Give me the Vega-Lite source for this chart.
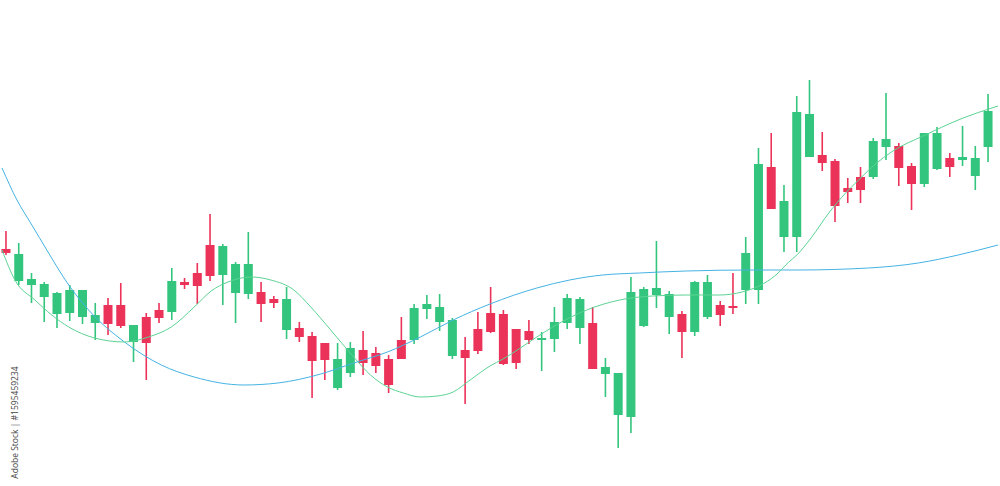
{
  "$schema": "https://vega.github.io/schema/vega-lite/v6.json",
  "width": 1000,
  "height": 486,
  "autosize": {"type": "fit", "contains": "padding"},
  "padding": 0,
  "background": "white",
  "config": {"view": {"stroke": null}, "scale": {"continuousPadding": 0}},
  "datasets": {
    "candles": [
      {"i":0,"open":251,"high":269,"low":245,"close":247},
      {"i":1,"open":219,"high":257,"low":215,"close":246},
      {"i":2,"open":215,"high":227,"low":197,"close":221},
      {"i":3,"open":203,"high":218,"low":178,"close":216},
      {"i":4,"open":186,"high":208,"low":172,"close":207},
      {"i":5,"open":187,"high":215,"low":179,"close":210},
      {"i":6,"open":183,"high":210,"low":176,"close":210},
      {"i":7,"open":177,"high":197,"low":160,"close":185},
      {"i":8,"open":195,"high":202,"low":165,"close":176},
      {"i":9,"open":195,"high":217,"low":172,"close":174},
      {"i":10,"open":158,"high":175,"low":138,"close":175},
      {"i":11,"open":183,"high":187,"low":120,"close":157},
      {"i":12,"open":190,"high":197,"low":177,"close":182},
      {"i":13,"open":188,"high":232,"low":180,"close":219},
      {"i":14,"open":218,"high":222,"low":211,"close":215},
      {"i":15,"open":227,"high":237,"low":196,"close":214},
      {"i":16,"open":255,"high":286,"low":219,"close":224},
      {"i":17,"open":225,"high":256,"low":195,"close":254},
      {"i":18,"open":207,"high":238,"low":177,"close":236},
      {"i":19,"open":206,"high":268,"low":201,"close":236},
      {"i":20,"open":208,"high":218,"low":178,"close":196},
      {"i":21,"open":201,"high":204,"low":192,"close":197},
      {"i":22,"open":170,"high":213,"low":161,"close":201},
      {"i":23,"open":172,"high":178,"low":158,"close":163},
      {"i":24,"open":164,"high":168,"low":102,"close":139},
      {"i":25,"open":157,"high":157,"low":120,"close":140},
      {"i":26,"open":112,"high":157,"low":110,"close":141},
      {"i":27,"open":127,"high":158,"low":123,"close":152},
      {"i":28,"open":150,"high":169,"low":125,"close":137},
      {"i":29,"open":147,"high":153,"low":127,"close":134},
      {"i":30,"open":141,"high":145,"low":107,"close":115},
      {"i":31,"open":160,"high":183,"low":141,"close":141},
      {"i":32,"open":160,"high":196,"low":156,"close":192},
      {"i":33,"open":191,"high":205,"low":181,"close":196},
      {"i":34,"open":178,"high":206,"low":169,"close":193},
      {"i":35,"open":144,"high":182,"low":141,"close":180},
      {"i":36,"open":150,"high":163,"low":96,"close":142},
      {"i":37,"open":171,"high":188,"low":146,"close":149},
      {"i":38,"open":187,"high":213,"low":167,"close":168},
      {"i":39,"open":186,"high":190,"low":135,"close":136},
      {"i":40,"open":171,"high":171,"low":131,"close":137},
      {"i":41,"open":169,"high":180,"low":156,"close":160},
      {"i":42,"open":160,"high":168,"low":129,"close":162},
      {"i":43,"open":161,"high":193,"low":148,"close":178},
      {"i":44,"open":177,"high":206,"low":171,"close":202},
      {"i":45,"open":172,"high":203,"low":156,"close":201},
      {"i":46,"open":177,"high":193,"low":131,"close":131},
      {"i":47,"open":126,"high":142,"low":103,"close":133},
      {"i":48,"open":85,"high":127,"low":52,"close":127},
      {"i":49,"open":83,"high":223,"low":67,"close":208},
      {"i":50,"open":174,"high":213,"low":173,"close":211},
      {"i":51,"open":205,"high":259,"low":192,"close":212},
      {"i":52,"open":183,"high":209,"low":166,"close":206},
      {"i":53,"open":186,"high":189,"low":142,"close":168},
      {"i":54,"open":168,"high":219,"low":164,"close":218},
      {"i":55,"open":183,"high":225,"low":181,"close":218},
      {"i":56,"open":195,"high":199,"low":174,"close":185},
      {"i":57,"open":194,"high":227,"low":186,"close":192},
      {"i":58,"open":210,"high":263,"low":196,"close":247},
      {"i":59,"open":210,"high":352,"low":196,"close":336},
      {"i":60,"open":333,"high":367,"low":291,"close":291},
      {"i":61,"open":263,"high":315,"low":248,"close":299},
      {"i":62,"open":263,"high":404,"low":248,"close":388},
      {"i":63,"open":343,"high":420,"low":343,"close":386},
      {"i":64,"open":345,"high":368,"low":329,"close":337},
      {"i":65,"open":339,"high":341,"low":278,"close":294},
      {"i":66,"open":312,"high":322,"low":297,"close":308},
      {"i":67,"open":323,"high":333,"low":297,"close":310},
      {"i":68,"open":323,"high":362,"low":321,"close":359},
      {"i":69,"open":353,"high":407,"low":340,"close":361},
      {"i":70,"open":354,"high":357,"low":314,"close":332},
      {"i":71,"open":334,"high":337,"low":290,"close":316},
      {"i":72,"open":316,"high":367,"low":313,"close":367},
      {"i":73,"open":331,"high":373,"low":330,"close":367},
      {"i":74,"open":342,"high":347,"low":323,"close":333},
      {"i":75,"open":340,"high":374,"low":334,"close":343},
      {"i":76,"open":324,"high":354,"low":310,"close":342},
      {"i":77,"open":353,"high":406,"low":338,"close":389}
    ],
    "maSlow": [
      {"t":-0.31,"v":332},{"t":0.86,"v":300},{"t":2.03,"v":275},{"t":3.2,"v":250},
      {"t":4.92,"v":215},{"t":6.48,"v":190},{"t":9.29,"v":158},{"t":12.18,"v":135},
      {"t":14.76,"v":123},{"t":18.66,"v":115},{"t":21.32,"v":117},{"t":24.68,"v":126},
      {"t":27.26,"v":137},{"t":29.91,"v":148},{"t":32.49,"v":163},{"t":35.06,"v":180},
      {"t":37.95,"v":196},{"t":41.62,"v":212},{"t":44.2,"v":220},{"t":46.78,"v":225},
      {"t":49.67,"v":227},{"t":53.34,"v":229},{"t":58.49,"v":230},{"t":62.16,"v":230},
      {"t":67.63,"v":232},{"t":71.53,"v":237},{"t":74.66,"v":245},{"t":77.78,"v":255}
    ],
    "maFast": [
      {"t":-0.31,"v":250},{"t":0.7,"v":220},{"t":2.27,"v":200},{"t":3.59,"v":185},
      {"t":4.92,"v":173},{"t":6.95,"v":162},{"t":9.29,"v":158},{"t":11.17,"v":163},
      {"t":12.96,"v":173},{"t":14.76,"v":193},{"t":16.09,"v":209},{"t":17.41,"v":218},
      {"t":19.21,"v":223},{"t":20.77,"v":220},{"t":22.57,"v":210},{"t":23.9,"v":193},
      {"t":25.46,"v":170},{"t":27.26,"v":143},{"t":28.58,"v":125},{"t":29.91,"v":113},
      {"t":31.16,"v":107},{"t":32.49,"v":103},{"t":33.82,"v":104},{"t":35.06,"v":108},
      {"t":36.39,"v":120},{"t":37.95,"v":134},{"t":38.97,"v":141},{"t":41.62,"v":163},
      {"t":42.87,"v":173},{"t":45.53,"v":190},{"t":48.11,"v":200},{"t":50.68,"v":204},
      {"t":53.34,"v":205},{"t":55.92,"v":205},{"t":57.71,"v":208},{"t":59.04,"v":214},
      {"t":60.37,"v":225},{"t":61.38,"v":238},{"t":61.93,"v":244},{"t":63.18,"v":263},
      {"t":64.51,"v":287},{"t":65.83,"v":307},{"t":66.85,"v":320},{"t":68.18,"v":336},
      {"t":69.42,"v":348},{"t":72.08,"v":365},{"t":74.66,"v":380},{"t":77.78,"v":394}
    ]
  },
  "layer": [
    {
      "data": {"name": "candles"},
      "mark": {"type": "rule", "strokeWidth": 1.6},
      "encoding": {
        "x": {"field": "i", "type": "quantitative", "scale": {"domain": [-0.312, 77.78], "nice": false, "zero": false, "padding": 0}, "axis": null},
        "y": {"field": "low", "type": "quantitative", "scale": {"domain": [14, 500], "nice": false, "zero": false, "padding": 0},
              "axis": {"domain": false, "ticks": false, "labels": false, "grid": false,
                       "title": "Adobe Stock | #1595459234", "titleFont": "Open Sans", "titleFontSize": 8.5,
                       "titleFontWeight": "normal", "titleColor": "#444444", "titleAngle": 270,
                       "titleX": 15, "titleY": 422, "titleAlign": "center", "titleBaseline": "alphabetic"}},
        "y2": {"field": "high"},
        "color": {"condition": {"test": "datum.open < datum.close", "value": "#33c57d"}, "value": "#eb3259"}
      }
    },
    {
      "data": {"name": "candles"},
      "mark": {"type": "bar", "width": 9},
      "encoding": {
        "x": {"field": "i", "type": "quantitative"},
        "y": {"field": "open", "type": "quantitative"},
        "y2": {"field": "close"},
        "color": {"condition": {"test": "datum.open < datum.close", "value": "#33c57d"}, "value": "#eb3259"}
      }
    },
    {
      "data": {"name": "maSlow"},
      "mark": {"type": "line", "interpolate": "monotone", "strokeWidth": 1, "color": "#45b3e3"},
      "encoding": {
        "x": {"field": "t", "type": "quantitative"},
        "y": {"field": "v", "type": "quantitative"}
      }
    },
    {
      "data": {"name": "maFast"},
      "mark": {"type": "line", "interpolate": "monotone", "strokeWidth": 1, "color": "#5cd393"},
      "encoding": {
        "x": {"field": "t", "type": "quantitative"},
        "y": {"field": "v", "type": "quantitative"}
      }
    }
  ]
}
